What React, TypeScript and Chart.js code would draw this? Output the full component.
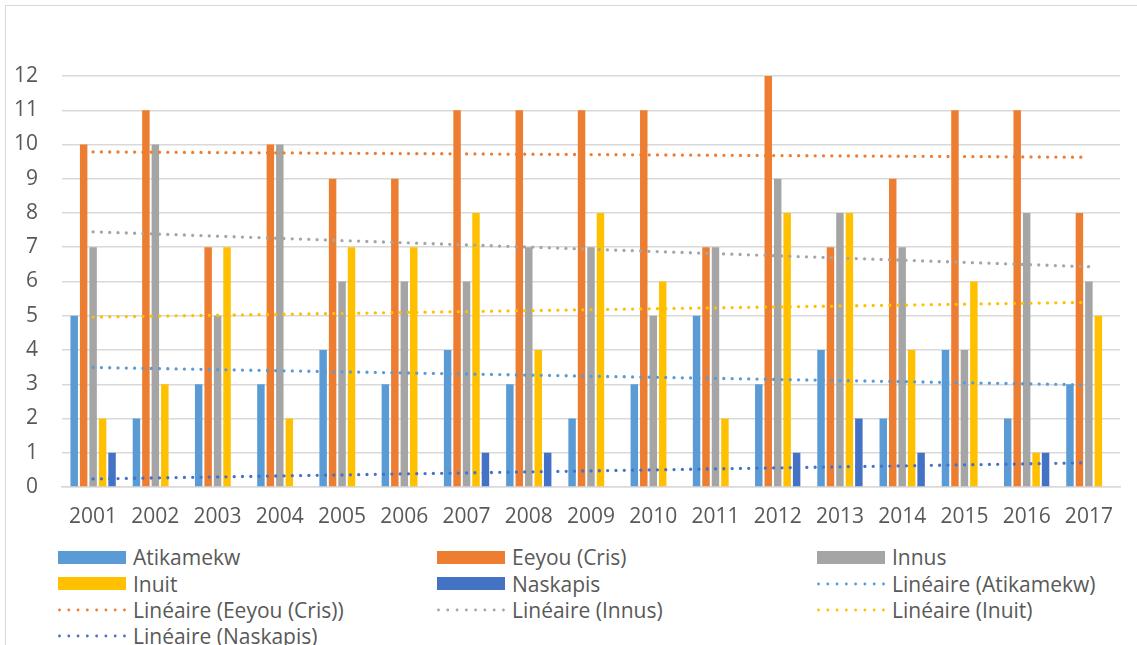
import React, { useEffect, useRef } from "react";
import { Chart, registerables } from "chart.js";

Chart.register(...registerables);

const years = ["2001","2002","2003","2004","2005","2006","2007","2008","2009","2010","2011","2012","2013","2014","2015","2016","2017"];
const atikamekw = [5, 2, 3, 3, 4, 3, 4, 3, 2, 3, 5, 3, 4, 2, 4, 2, 3];
const eeyou = [10, 11, 7, 10, 9, 9, 11, 11, 11, 11, 7, 12, 7, 9, 11, 11, 8];
const innus = [7, 10, 5, 10, 6, 6, 6, 7, 7, 5, 7, 9, 8, 7, 4, 8, 6];
const inuit = [2, 3, 7, 2, 7, 7, 8, 4, 8, 6, 2, 8, 8, 4, 6, 1, 5];
const naskapis = [1, 0, 0, 0, 0, 0, 1, 1, 0, 0, 0, 1, 2, 1, 0, 1, 0];

const seriesNames = ["Atikamekw", "Eeyou (Cris)", "Innus", "Inuit", "Naskapis"];
const seriesColors = ["#5B9BD5", "#ED7D31", "#A5A5A5", "#FFC000", "#4472C4"];
const seriesData = [atikamekw, eeyou, innus, inuit, naskapis];

const FONT = "'Open Sans', 'Noto Sans', sans-serif";
const TEXT = "#595959";
const GRID = "#d9d9d9";

// Excel-style linear trendline (least squares on x = 1..n)
function linearTrend(values: number[]): number[] {
  const n = values.length;
  const xs = values.map((_, i) => i + 1);
  const mx = xs.reduce((a, b) => a + b, 0) / n;
  const my = values.reduce((a, b) => a + b, 0) / n;
  let num = 0;
  let den = 0;
  for (let i = 0; i < n; i++) {
    num += (xs[i] - mx) * (values[i] - my);
    den += (xs[i] - mx) * (xs[i] - mx);
  }
  const slope = num / den;
  const icpt = my - slope * mx;
  return xs.map((x) => icpt + slope * x);
}

const legendItems: { label: string; color: string; kind: "bar" | "line" }[] = [
  ...seriesNames.map((s, i) => ({ label: s, color: seriesColors[i], kind: "bar" as const })),
  ...seriesNames.map((s, i) => ({ label: `Linéaire (${s})`, color: seriesColors[i], kind: "line" as const })),
];

export default function App() {
  const canvasRef = useRef<HTMLCanvasElement | null>(null);

  useEffect(() => {
    if (!canvasRef.current) return;
    const barSets = seriesNames.map((name, i) => ({
      type: "bar" as const,
      label: name,
      data: seriesData[i],
      backgroundColor: seriesColors[i],
      borderWidth: 0,
      categoryPercentage: 0.76,
      barPercentage: 0.79,
      order: 1,
    }));
    const trendSets = seriesNames.map((name, i) => ({
      type: "line" as const,
      label: `Linéaire (${name})`,
      data: linearTrend(seriesData[i]),
      borderColor: seriesColors[i],
      backgroundColor: seriesColors[i],
      borderWidth: 3.3,
      borderDash: [0, 8.3],
      borderCapStyle: "round" as const,
      pointRadius: 0,
      fill: false,
      tension: 0,
      order: 0,
    }));
    const chart = new Chart(canvasRef.current, {
      type: "bar",
      data: { labels: years, datasets: [...barSets, ...trendSets] as any },
      options: {
        animation: false,
        responsive: false,
        layout: { padding: { top: 76, right: 17, left: 0, bottom: 0 } },
        plugins: { legend: { display: false }, tooltip: { enabled: false } },
        scales: {
          x: {
            grid: { display: false, drawTicks: false },
            border: { display: true, color: GRID, width: 1.5 },
            ticks: { color: TEXT, font: { family: FONT, size: 21 }, padding: 17, maxRotation: 0 },
            afterFit: (s: any) => {
              s.height = 53;
              s.paddingLeft = 0;
              s.paddingRight = 0;
            },
          },
          y: {
            min: 0,
            max: 12,
            ticks: { stepSize: 1, color: TEXT, font: { family: FONT, size: 21 }, padding: 24 },
            grid: { color: GRID, lineWidth: 1.5, drawTicks: false },
            border: { display: false },
            afterFit: (s: any) => {
              s.width = 62;
              s.paddingTop = 0;
              s.paddingBottom = 0;
            },
          },
        },
      },
    });
    return () => chart.destroy();
  }, []);

  const colX = [58, 437, 817];
  const rowY = [557, 583.5, 610, 636];

  return (
    <div style={{ position: "fixed", left: 0, top: 0, width: 1137, height: 645, overflow: "hidden", background: "#fff" }}>
      <div
        style={{
          position: "absolute",
          left: 5,
          top: 5,
          width: 1200,
          height: 700,
          borderTop: `1.5px solid ${GRID}`,
          borderLeft: `1.5px solid ${GRID}`,
        }}
      />
      <canvas ref={canvasRef} width={1137} height={540} style={{ position: "absolute", left: 0, top: 0, width: 1137, height: 540 }} />
      {legendItems.map((it, idx) => {
        const col = idx % 3;
        const row = Math.floor(idx / 3);
        return (
          <div
            key={it.label}
            style={{
              position: "absolute",
              left: colX[col],
              top: rowY[row] - 15,
              height: 30,
              display: "flex",
              alignItems: "center",
              fontFamily: FONT,
              fontSize: 21,
              color: TEXT,
              whiteSpace: "nowrap",
            }}
          >
            {it.kind === "bar" ? (
              <div style={{ width: 68, height: 13, background: it.color, marginRight: 7 }} />
            ) : (
              <svg width={68} height={6} style={{ marginRight: 7 }}>
                <line x1={1.5} y1={3} x2={66.5} y2={3} stroke={it.color} strokeWidth={2.8} strokeLinecap="round" strokeDasharray="0 9.28" />
              </svg>
            )}
            <span>{it.label}</span>
          </div>
        );
      })}
    </div>
  );
}
